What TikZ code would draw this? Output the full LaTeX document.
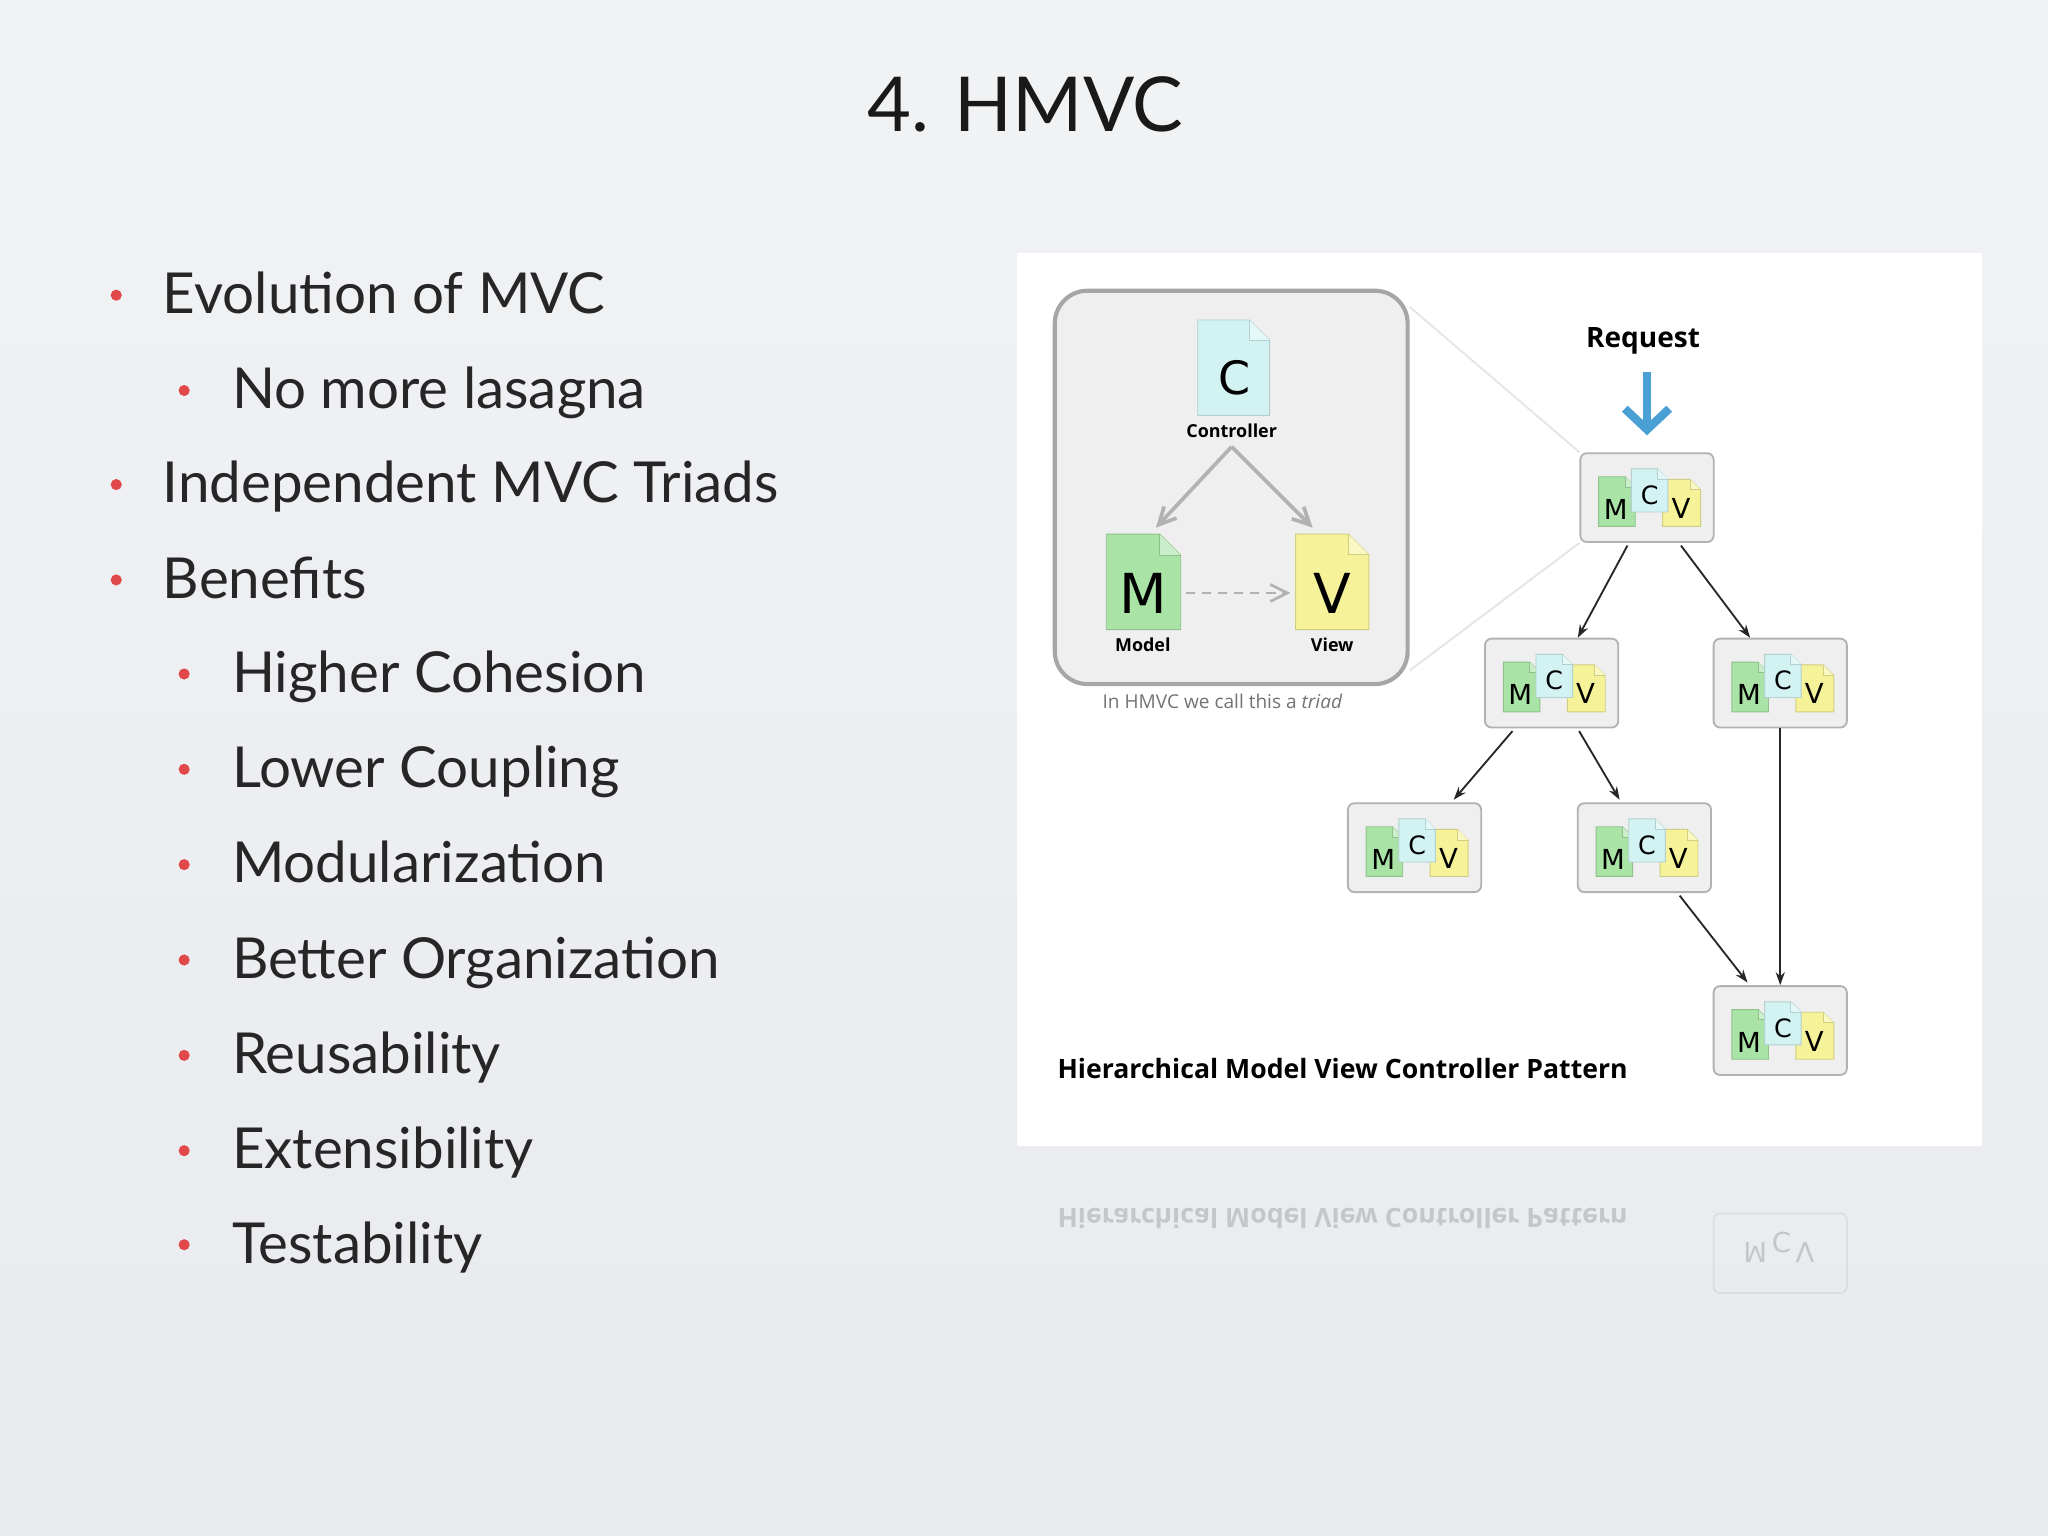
\documentclass[tikz,border=0pt]{standalone}
\usepackage{fontspec}
\setmainfont{Lato}
\newfontfamily\dfont{Open Sans}
\newfontfamily\lfont{DejaVu Sans}
\usetikzlibrary{arrows.meta,calc}
\definecolor{bg}{HTML}{E8EAEE}
\definecolor{bulletred}{HTML}{E0484A}
\definecolor{gM}{HTML}{A9E3A6}
\definecolor{gC}{HTML}{D3F3F3}
\definecolor{gV}{HTML}{F5F29A}
\definecolor{boxg}{HTML}{EFEFEF}
\definecolor{req}{HTML}{4A9FD5}
\tikzset{
 lvlone/.style={anchor=base west,inner sep=0pt,font=\fontsize{12.3}{15}\selectfont,text=black!85},
 bul/.style={circle,fill=bulletred,inner sep=0pt,minimum size=0.085cm},
 mini/.style={draw=black!30,fill=boxg,rounded corners=0.05cm,minimum width=1.02cm,minimum height=0.68cm,line width=0.4pt},
 edge/.style={-{Stealth[length=0.1cm,width=0.07cm]},line width=0.4pt,black!85},
 garrow/.style={-{Straight Barb[length=0.13cm,width=0.13cm]},line width=0.8pt,black!30},
 lab/.style={font=\dfont\bfseries\fontsize{3.9}{5}\selectfont,inner sep=0pt},
}
\newcommand\docshape[5]{%
 \filldraw[fill=#5,draw=#5!85!black,line width=0.2pt] (#1,#2) -- ({#3-(#3-#1)*0.28},#2) -- (#3,{#2+(#3-#1)*0.28}) -- (#3,#4) -- (#1,#4) -- cycle;
 \filldraw[fill=#5!60!white,draw=#5!85!black,line width=0.2pt] ({#3-(#3-#1)*0.28},#2) -- ({#3-(#3-#1)*0.28},{#2+(#3-#1)*0.28}) -- (#3,{#2+(#3-#1)*0.28});}
\newcommand\mcv[3]{%
 \node[mini] (#1) at (#2,#3) {};
 \begin{scope}[shift={(#2,#3)}]
  \docshape{-37}{-16}{-9}{22}{gM}
  \docshape{12}{-14}{41}{22}{gV}
  \docshape{-12}{-22}{16}{11}{gC}
  \node[font=\lfont\fontsize{6}{7}\selectfont] at (-24,9) {M};
  \node[font=\lfont\fontsize{5.5}{7}\selectfont] at (2,-2) {C};
  \node[font=\lfont\fontsize{6}{7}\selectfont] at (26,8) {V};
 \end{scope}}
\begin{document}
\begin{tikzpicture}[x=0.01cm,y=-0.01cm]
\useasboundingbox (0,0) rectangle (1568,1176);
\shade[top color=bg!60!white,bottom color=bg] (0,0) rectangle (1568,1176);
% title
\node[font=\fontsize{16.5}{20}\selectfont,text=black!90] (title) at (785,80) {4. HMVC};
% bullets
\foreach \t/\lv/\yy [count=\i] in {Evolution of MVC/1/240,No more lasagna/2/313,Independent MVC Triads/1/385,Benefits/1/458,Higher Cohesion/2/530,Lower Coupling/2/603,Modularization/2/676,Better Organization/2/749,Reusability/2/822,Extensibility/2/895,Testability/2/967}{
 \ifnum\lv=1
  \node[bul] (b\i) at (89,{\yy-14}) {};
  \node[lvlone] (t\i) at (124,\yy) {\t};
 \else
  \node[bul] (b\i) at (141,{\yy-14}) {};
  \node[lvlone] (t\i) at (177,\yy) {\t};
 \fi}
% reflection
\begin{scope}[opacity=0.16]
 \node[font=\dfont\bfseries\fontsize{5.8}{7}\selectfont,anchor=west,inner sep=0pt,yscale=-1] (refl) at (809,933) {Hierarchical Model View Controller Pattern};
 \draw[black!40,rounded corners=0.05cm,fill=boxg] (1312,929) rectangle (1414,990);
 \node[font=\lfont\fontsize{6}{7}\selectfont,yscale=-1] (reflm) at (1362,955) {M\,\raisebox{-2pt}{C}\,V};
\end{scope}
% panel
\node[fill=white,minimum width=7.38cm,minimum height=6.83cm,inner sep=0pt,anchor=north west] (panel) at (778,193) {};
% triad
\node[draw=black!35,fill=boxg,rounded corners=0.25cm,line width=0.9pt,minimum width=2.70cm,minimum height=3.01cm,anchor=north west] (triad) at (806,221) {};
\docshape{917}{245}{972}{318}{gC}
\docshape{847}{409}{904}{482}{gM}
\docshape{992}{409}{1048}{482}{gV}
\node[font=\lfont\fontsize{10}{12}\selectfont] (cl) at (945,289) {C};
\node[font=\lfont\fontsize{12}{14}\selectfont] (ml) at (875,454) {M};
\node[font=\lfont\fontsize{12}{14}\selectfont] (vl) at (1020,454) {V};
\node[lab] (ctrl) at (943,330) {Controller};
\node[lab] (model) at (875,494) {Model};
\node[lab] (view) at (1020,494) {View};
\coordinate (ctop) at (943,342);
\draw[garrow] (ctop) -- (885,404);
\draw[garrow] (ctop) -- (1005,404);
\draw[garrow,dash pattern=on 2pt off 1.5pt,line width=0.6pt] (908,454) -- (988,454);
\node[font=\dfont\fontsize{4.15}{5}\selectfont,text=black!55,inner sep=0pt] (cap) at (936,537) {In HMVC we call this a \textit{triad}};
% mini boxes
\mcv{m1}{1261}{381}
\mcv{m2}{1188}{523}
\mcv{m3}{1363}{523}
\mcv{m4}{1083}{649}
\mcv{m5}{1259}{649}
\mcv{m6}{1363}{789}
\draw[black!10,line width=0.4pt] (triad.north east) ++(0,14) -- (m1.north west);
\draw[black!10,line width=0.4pt] (triad.south east) ++(0,-12) -- (m1.south west);
\draw[edge] ($(m1.south)+(-15,2)$) -- ($(m2.north)+(20,0)$);
\draw[edge] ($(m1.south)+(26,2)$) -- ($(m3.north)+(-23,0)$);
\draw[edge] ($(m2.south)+(-30,2)$) -- ($(m4.north)+(30,-2)$);
\draw[edge] ($(m2.south)+(21,2)$) -- ($(m5.north)+(-19,-2)$);
\draw[edge] (m3.south) -- (m6.north);
\draw[edge] ($(m5.south)+(27,2)$) -- ($(m6.north)+(-25,-2)$);
% request
\node[font=\dfont\bfseries\fontsize{6.1}{7}\selectfont,inner sep=0pt] (reqt) at (1258,261) {Request};
\draw[req,line width=1.8pt,-{Straight Barb[length=0.16cm,width=0.34cm]}] (1261,285) -- ($(m1.north)+(0,-13)$);
\node[font=\dfont\bfseries\fontsize{5.8}{7}\selectfont,anchor=west,inner sep=0pt] (hm) at (809,818) {Hierarchical Model View Controller Pattern};
\end{tikzpicture}
\end{document}
